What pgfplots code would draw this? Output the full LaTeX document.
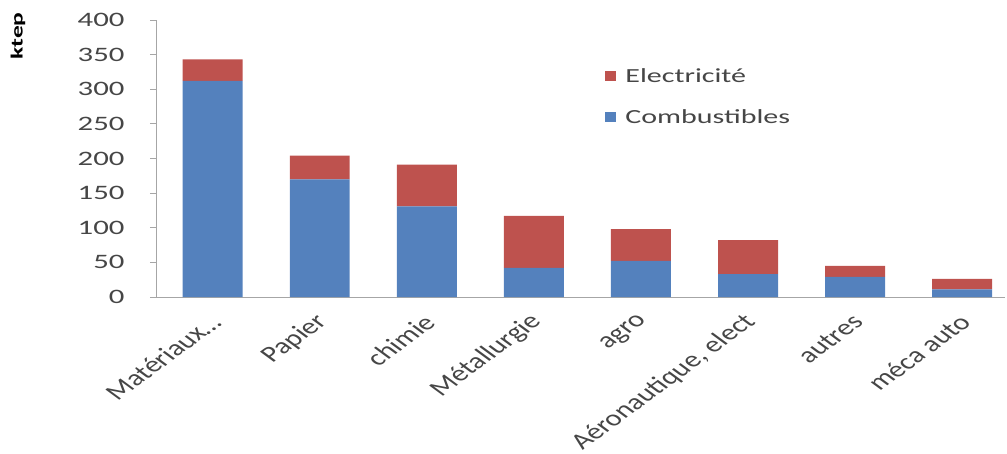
\documentclass[border=0pt]{standalone}
\usepackage{pgfplots}
\pgfplotsset{compat=1.18}
\usepackage{fontspec}
\setmainfont[FakeStretch=1.5]{Carlito}
\newfontfamily\labelfont{Carlito}
\definecolor{combu}{RGB}{84,129,189}
\definecolor{elec}{RGB}{190,82,78}
\definecolor{txt}{RGB}{70,70,70}
\begin{document}
\fontsize{19}{22}\selectfont
\begin{tikzpicture}
\useasboundingbox (-157pt,-156pt) rectangle (850pt,297pt);
\begin{axis}[
  at={(0,0)}, anchor=south west,
  scale only axis,
  width=848pt, height=277pt,
  ybar stacked,
  bar width=0.56,
  xmin=-0.52, xmax=7.4,
  ymin=0, ymax=400,
  ytick={0,50,...,400},
  xtick=data,
  xticklabels={Matériaux\ldots,Papier,chimie,Métallurgie,agro,{Aéronautique, elect},autres,méca auto},
  axis x line*=bottom,
  axis y line*=left,
  axis line style={draw=black!35, line width=1pt},
  y axis line style={-},
  x axis line style={-},
  major tick length=7pt,
  ytick style={draw=black!35, line width=1pt},
  xtick style={draw=none},
  tick align=outside,
  /pgf/number format/assume math mode=true,
  tick label style={text=txt, font=\fontsize{20.5}{23}\selectfont},
  yticklabel style={xshift=-19pt},
  % rotated labels, widened horizontally like the rest of the lettering
  xticklabel style={font=\labelfont\fontsize{22.5}{25}\selectfont, anchor=east,
    xshift=9pt, yshift=-10pt, cm={0.962,0.707,-0.962,0.707,(0,0)}},
  ylabel={\textbf{ktep}},
  ylabel style={at={(axis description cs:-0.164,0.942)}, anchor=center, font=\fontsize{17}{20}\selectfont},
  legend style={draw=none, fill=none, at={(axis description cs:0.525,0.838)}, anchor=north west,
    row sep=20pt, font=\fontsize{20}{22}\selectfont, text=txt},
  legend cell align=left,
  reverse legend,
  legend image code/.code={\fill[#1] (0pt,-4pt) rectangle (11pt,6pt); \path (18pt,0pt);},
]
\addplot[fill=combu, draw=none] coordinates {(0,312) (1,170) (2,131) (3,42) (4,52) (5,33) (6,29) (7,11)};
\addplot[fill=elec, draw=none] coordinates {(0,31) (1,34) (2,60) (3,75) (4,46) (5,49) (6,16) (7,15)};
\legend{Combustibles, Electricité}
\end{axis}
\end{tikzpicture}
\end{document}
